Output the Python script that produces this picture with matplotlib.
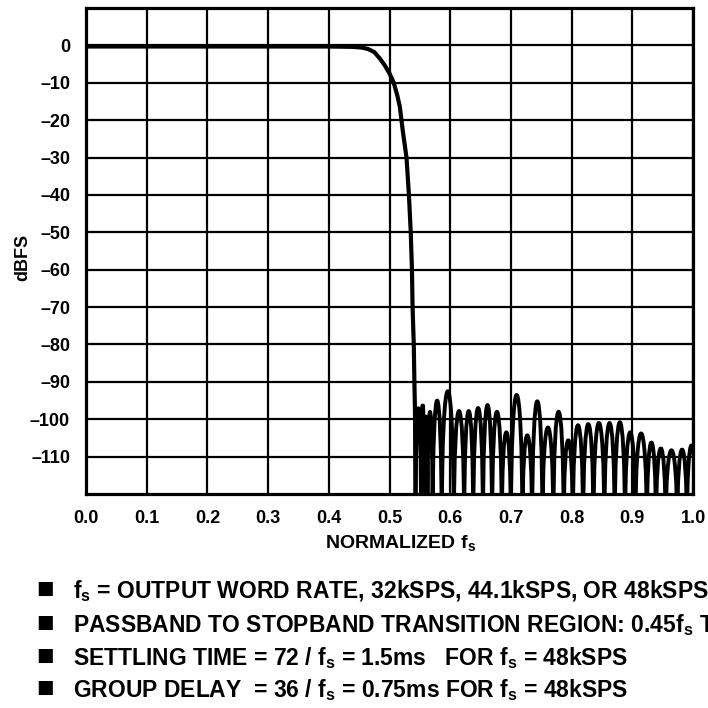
import matplotlib
matplotlib.use("Agg")
import matplotlib.pyplot as plt
from matplotlib.path import Path
from matplotlib.patches import PathPatch

plt.rcParams['font.family'] = ['Liberation Sans', 'DejaVu Sans']
plt.rcParams['font.weight'] = 'bold'
plt.rcParams['mathtext.default'] = 'regular'

# --- data ---
# passband + transition band (normalized f, dBFS)
pass_f = [0.0, 0.40, 0.44, 0.455, 0.465, 0.475, 0.484, 0.492, 0.500, 0.507,
          0.513, 0.517, 0.522, 0.528, 0.532, 0.535, 0.537, 0.538, 0.540,
          0.541, 0.542, 0.543]
pass_db = [-0.3, -0.3, -0.4, -0.6, -1.0, -1.8, -3.5, -5.3, -7.5, -10.0,
           -13.5, -16.4, -23.0, -30.0, -40.0, -50.0, -60.0, -70.0, -80.0,
           -90.0, -98.0, -130.0]

# stopband: nulls (edges of each lobe) and lobe peak levels
null_f = [0.543, 0.552, 0.5575, 0.5625, 0.571, 0.586, 0.606, 0.623, 0.638,
          0.654, 0.669, 0.685, 0.700, 0.719, 0.735, 0.752, 0.770, 0.787,
          0.802, 0.819, 0.836, 0.854, 0.871, 0.888, 0.905, 0.924, 0.939,
          0.955, 0.974, 0.990, 1.005]
lobe_db = [-97.0, -96.0, -99.0, -98.0, -95.0, -92.5, -97.8, -97.8, -97.0,
           -96.2, -98.0, -103.5, -93.5, -104.3, -95.2, -102.2, -98.0, -105.6,
           -101.6, -101.3, -101.0, -101.0, -100.8, -103.5, -103.8, -106.2,
           -107.8, -108.3, -108.1, -107.0]

x_ticks = [0.0, 0.1, 0.2, 0.3, 0.4, 0.5, 0.6, 0.7, 0.8, 0.9, 1.0]
x_labels = ["0.0", "0.1", "0.2", "0.3", "0.4", "0.5", "0.6", "0.7", "0.8", "0.9", "1.0"]
y_ticks = [0, -10, -20, -30, -40, -50, -60, -70, -80, -90, -100, -110]
y_labels = ["0", "–10", "–20", "–30", "–40", "–50", "–60", "–70", "–80", "–90", "–100", "–110"]

notes = [
    "$f_s$ = OUTPUT WORD RATE, 32kSPS, 44.1kSPS, OR 48kSPS",
    "PASSBAND TO STOPBAND TRANSITION REGION: 0.45$f_s$ TO 0.55$f_s$",
    "SETTLING TIME = 72 / $f_s$ = 1.5ms   FOR $f_s$ = 48kSPS",
    "GROUP DELAY  = 36 / $f_s$ = 0.75ms FOR $f_s$ = 48kSPS",
]

W = H = 708.0
fig = plt.figure(figsize=(7.08, 7.08), dpi=100)
ax = fig.add_axes([86 / W, 1 - 494 / H, 607 / W, 486 / H])

ax.plot(pass_f, pass_db, color='black', lw=3.0, solid_joinstyle='round', zorder=3)

# each stopband lobe drawn as an arch between two nulls
floor = -130.0
verts, codes = [], []
for i, peak in enumerate(lobe_db):
    a, b = null_f[i], null_f[i + 1]
    c = (peak - 0.25 * floor) / 0.75
    verts += [(a, floor), (a, c), (b, c), (b, floor)]
    codes += [Path.MOVETO, Path.CURVE4, Path.CURVE4, Path.CURVE4]
ax.add_patch(PathPatch(Path(verts, codes), fill=False, edgecolor='black',
                       lw=2.8, joinstyle='round', zorder=3))

ax.set_xlim(0, 1.0)
ax.set_ylim(-120, 10)
ax.set_xticks(x_ticks)
ax.set_xticklabels(x_labels)
ax.set_yticks(y_ticks)
ax.set_yticklabels(y_labels)
ax.tick_params(axis='both', length=0, labelsize=13)
ax.tick_params(axis='x', pad=11.5)
ax.tick_params(axis='y', pad=11.5)
ax.grid(True, color='black', lw=1.6, zorder=1)
ax.set_axisbelow(True)
for s in ax.spines.values():
    s.set_linewidth(2.3)

fig.text(23 / W, 1 - 257 / H, "dBFS", rotation=90, ha='center', va='center', fontsize=13)
fig.text(401 / W, 1 - 548 / H, "NORMALIZED $f_s$", ha='center', va='baseline', fontsize=14)

baselines = [598, 632, 665, 697]
for txt, yb in zip(notes, baselines):
    fig.text(45 / W, 1 - yb / H, "■", ha='center', va='baseline', fontsize=21,
             family=['Liberation Sans', 'DejaVu Sans'])
    fig.text(73 / W, 1 - yb / H, txt, ha='left', va='baseline', fontsize=16.5)

fig.savefig("out.png", dpi=100)
